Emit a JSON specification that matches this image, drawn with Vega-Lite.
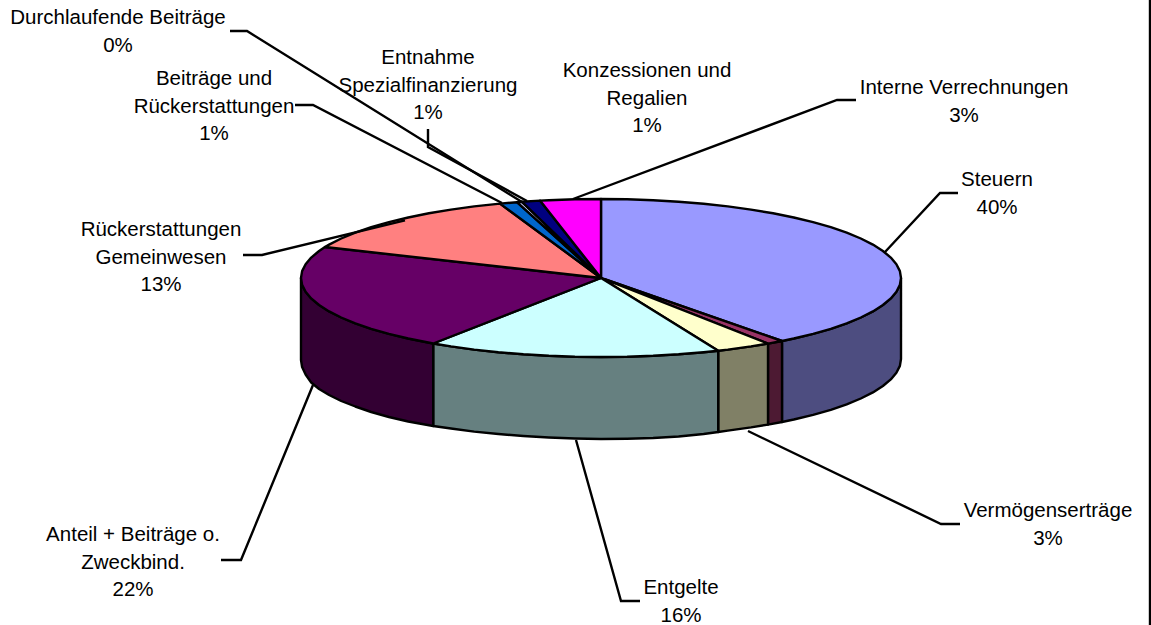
{"$schema":"https://vega.github.io/schema/vega-lite/v6.json","width":1151,"height":625,"padding":0,"autosize":"none","background":"white","view":{"stroke":null},
"datasets":{
"faces":[
{"g":"Steuern Wand","i":0,"x":300,"y":0},{"g":"Steuern Wand","i":1,"x":298.9,"y":-6.9},{"g":"Steuern Wand","i":2,"x":295.4,"y":-13.7},{"g":"Steuern Wand","i":3,"x":289.8,"y":-20.4},{"g":"Steuern Wand","i":4,"x":281.9,"y":-27},{"g":"Steuern Wand","i":5,"x":271.9,"y":-33.4},{"g":"Steuern Wand","i":6,"x":259.8,"y":-39.5},{"g":"Steuern Wand","i":7,"x":245.7,"y":-45.3},{"g":"Steuern Wand","i":8,"x":229.8,"y":-50.8},{"g":"Steuern Wand","i":9,"x":212.1,"y":-55.9},{"g":"Steuern Wand","i":10,"x":192.8,"y":-60.5},{"g":"Steuern Wand","i":11,"x":181,"y":-63},{"g":"Steuern Wand","i":12,"x":181,"y":-144},{"g":"Steuern Wand","i":13,"x":192.8,"y":-141.5},{"g":"Steuern Wand","i":14,"x":212.1,"y":-136.9},{"g":"Steuern Wand","i":15,"x":229.8,"y":-131.8},{"g":"Steuern Wand","i":16,"x":245.7,"y":-126.3},{"g":"Steuern Wand","i":17,"x":259.8,"y":-120.5},{"g":"Steuern Wand","i":18,"x":271.9,"y":-114.4},{"g":"Steuern Wand","i":19,"x":281.9,"y":-108},{"g":"Steuern Wand","i":20,"x":289.8,"y":-101.4},{"g":"Steuern Wand","i":21,"x":295.4,"y":-94.7},{"g":"Steuern Wand","i":22,"x":298.9,"y":-87.9},{"g":"Steuern Wand","i":23,"x":300,"y":-81},{"g":"Steuern Wand","i":24,"x":300,"y":0},
{"g":"Rest Wand","i":0,"x":181,"y":-63},{"g":"Rest Wand","i":1,"x":167,"y":-65.6},{"g":"Rest Wand","i":2,"x":167,"y":-146.6},{"g":"Rest Wand","i":3,"x":181,"y":-144},{"g":"Rest Wand","i":4,"x":181,"y":-63},
{"g":"Vermögen Wand","i":0,"x":167,"y":-65.6},{"g":"Vermögen Wand","i":1,"x":150,"y":-68.4},{"g":"Vermögen Wand","i":2,"x":126.8,"y":-71.6},{"g":"Vermögen Wand","i":3,"x":117.2,"y":-72.7},{"g":"Vermögen Wand","i":4,"x":117.2,"y":-154},{"g":"Vermögen Wand","i":5,"x":126.8,"y":-152.6},{"g":"Vermögen Wand","i":6,"x":150,"y":-149.4},{"g":"Vermögen Wand","i":7,"x":167,"y":-146.6},{"g":"Vermögen Wand","i":8,"x":167,"y":-65.6},
{"g":"Entgelte Wand","i":0,"x":117.2,"y":-72.7},{"g":"Entgelte Wand","i":1,"x":102.6,"y":-74.2},{"g":"Entgelte Wand","i":2,"x":77.6,"y":-76.3},{"g":"Entgelte Wand","i":3,"x":52.1,"y":-77.8},{"g":"Entgelte Wand","i":4,"x":26.1,"y":-78.7},{"g":"Entgelte Wand","i":5,"x":0,"y":-79},{"g":"Entgelte Wand","i":6,"x":-26.1,"y":-78.7},{"g":"Entgelte Wand","i":7,"x":-52.1,"y":-77.8},{"g":"Entgelte Wand","i":8,"x":-77.6,"y":-76.3},{"g":"Entgelte Wand","i":9,"x":-102.6,"y":-74.2},{"g":"Entgelte Wand","i":10,"x":-126.8,"y":-71.6},{"g":"Entgelte Wand","i":11,"x":-150,"y":-68.4},{"g":"Entgelte Wand","i":12,"x":-167.8,"y":-65.5},{"g":"Entgelte Wand","i":13,"x":-167.8,"y":-148},{"g":"Entgelte Wand","i":14,"x":-150,"y":-150.5},{"g":"Entgelte Wand","i":15,"x":-126.8,"y":-153.6},{"g":"Entgelte Wand","i":16,"x":-102.6,"y":-156},{"g":"Entgelte Wand","i":17,"x":-77.6,"y":-158},{"g":"Entgelte Wand","i":18,"x":-52.1,"y":-159.5},{"g":"Entgelte Wand","i":19,"x":-26.1,"y":-160.5},{"g":"Entgelte Wand","i":20,"x":0,"y":-161},{"g":"Entgelte Wand","i":21,"x":26.1,"y":-160.7},{"g":"Entgelte Wand","i":22,"x":52.1,"y":-160},{"g":"Entgelte Wand","i":23,"x":77.6,"y":-158.5},{"g":"Entgelte Wand","i":24,"x":102.6,"y":-156},{"g":"Entgelte Wand","i":25,"x":117.2,"y":-154},{"g":"Entgelte Wand","i":26,"x":117.2,"y":-72.7},
{"g":"Anteil Wand","i":0,"x":-167.8,"y":-65.5},{"g":"Anteil Wand","i":1,"x":-192.8,"y":-60.5},{"g":"Anteil Wand","i":2,"x":-212.1,"y":-55.9},{"g":"Anteil Wand","i":3,"x":-229.8,"y":-50.8},{"g":"Anteil Wand","i":4,"x":-245.7,"y":-45.3},{"g":"Anteil Wand","i":5,"x":-259.8,"y":-39.5},{"g":"Anteil Wand","i":6,"x":-271.9,"y":-33.4},{"g":"Anteil Wand","i":7,"x":-281.9,"y":-27},{"g":"Anteil Wand","i":8,"x":-289.8,"y":-20.4},{"g":"Anteil Wand","i":9,"x":-295.4,"y":-13.7},{"g":"Anteil Wand","i":10,"x":-298.9,"y":-6.9},{"g":"Anteil Wand","i":11,"x":-300,"y":0},{"g":"Anteil Wand","i":12,"x":-300,"y":-82},{"g":"Anteil Wand","i":13,"x":-298.9,"y":-89},{"g":"Anteil Wand","i":14,"x":-295.4,"y":-96.5},{"g":"Anteil Wand","i":15,"x":-289.8,"y":-104.5},{"g":"Anteil Wand","i":16,"x":-281.9,"y":-111},{"g":"Anteil Wand","i":17,"x":-271.9,"y":-117},{"g":"Anteil Wand","i":18,"x":-259.8,"y":-123},{"g":"Anteil Wand","i":19,"x":-245.7,"y":-128.5},{"g":"Anteil Wand","i":20,"x":-229.8,"y":-134},{"g":"Anteil Wand","i":21,"x":-212.1,"y":-139},{"g":"Anteil Wand","i":22,"x":-192.8,"y":-143.5},{"g":"Anteil Wand","i":23,"x":-167.8,"y":-148},{"g":"Anteil Wand","i":24,"x":-167.8,"y":-65.5},
{"g":"Steuern","i":0,"x":0,"y":0},{"g":"Steuern","i":1,"x":0,"y":79},{"g":"Steuern","i":2,"x":26.1,"y":78.7},{"g":"Steuern","i":3,"x":52.1,"y":77.8},{"g":"Steuern","i":4,"x":77.6,"y":76.3},{"g":"Steuern","i":5,"x":102.6,"y":74.2},{"g":"Steuern","i":6,"x":126.8,"y":71.6},{"g":"Steuern","i":7,"x":150,"y":68.4},{"g":"Steuern","i":8,"x":172.1,"y":64.7},{"g":"Steuern","i":9,"x":192.8,"y":60.5},{"g":"Steuern","i":10,"x":212.1,"y":55.9},{"g":"Steuern","i":11,"x":229.8,"y":50.8},{"g":"Steuern","i":12,"x":245.7,"y":45.3},{"g":"Steuern","i":13,"x":259.8,"y":39.5},{"g":"Steuern","i":14,"x":271.9,"y":33.4},{"g":"Steuern","i":15,"x":281.9,"y":27},{"g":"Steuern","i":16,"x":289.8,"y":20.4},{"g":"Steuern","i":17,"x":295.4,"y":13.7},{"g":"Steuern","i":18,"x":298.9,"y":6.9},{"g":"Steuern","i":19,"x":300,"y":0},{"g":"Steuern","i":20,"x":298.9,"y":-6.9},{"g":"Steuern","i":21,"x":295.4,"y":-13.7},{"g":"Steuern","i":22,"x":289.8,"y":-20.4},{"g":"Steuern","i":23,"x":281.9,"y":-27},{"g":"Steuern","i":24,"x":271.9,"y":-33.4},{"g":"Steuern","i":25,"x":259.8,"y":-39.5},{"g":"Steuern","i":26,"x":245.7,"y":-45.3},{"g":"Steuern","i":27,"x":229.8,"y":-50.8},{"g":"Steuern","i":28,"x":212.1,"y":-55.9},{"g":"Steuern","i":29,"x":192.8,"y":-60.5},{"g":"Steuern","i":30,"x":181,"y":-63},{"g":"Steuern","i":31,"x":0,"y":0},
{"g":"Rest","i":0,"x":0,"y":0},{"g":"Rest","i":1,"x":181,"y":-63},{"g":"Rest","i":2,"x":167,"y":-65.6},{"g":"Rest","i":3,"x":0,"y":0},
{"g":"Vermögenserträge","i":0,"x":0,"y":0},{"g":"Vermögenserträge","i":1,"x":167,"y":-65.6},{"g":"Vermögenserträge","i":2,"x":150,"y":-68.4},{"g":"Vermögenserträge","i":3,"x":126.8,"y":-71.6},{"g":"Vermögenserträge","i":4,"x":117.2,"y":-72.7},{"g":"Vermögenserträge","i":5,"x":0,"y":0},
{"g":"Entgelte","i":0,"x":0,"y":0},{"g":"Entgelte","i":1,"x":117.2,"y":-72.7},{"g":"Entgelte","i":2,"x":102.6,"y":-74.2},{"g":"Entgelte","i":3,"x":77.6,"y":-76.3},{"g":"Entgelte","i":4,"x":52.1,"y":-77.8},{"g":"Entgelte","i":5,"x":26.1,"y":-78.7},{"g":"Entgelte","i":6,"x":0,"y":-79},{"g":"Entgelte","i":7,"x":-26.1,"y":-78.7},{"g":"Entgelte","i":8,"x":-52.1,"y":-77.8},{"g":"Entgelte","i":9,"x":-77.6,"y":-76.3},{"g":"Entgelte","i":10,"x":-102.6,"y":-74.2},{"g":"Entgelte","i":11,"x":-126.8,"y":-71.6},{"g":"Entgelte","i":12,"x":-150,"y":-68.4},{"g":"Entgelte","i":13,"x":-167.8,"y":-65.5},{"g":"Entgelte","i":14,"x":0,"y":0},
{"g":"Anteil","i":0,"x":0,"y":0},{"g":"Anteil","i":1,"x":-167.8,"y":-65.5},{"g":"Anteil","i":2,"x":-192.8,"y":-60.5},{"g":"Anteil","i":3,"x":-212.1,"y":-55.9},{"g":"Anteil","i":4,"x":-229.8,"y":-50.8},{"g":"Anteil","i":5,"x":-245.7,"y":-45.3},{"g":"Anteil","i":6,"x":-259.8,"y":-39.5},{"g":"Anteil","i":7,"x":-271.9,"y":-33.4},{"g":"Anteil","i":8,"x":-281.9,"y":-27},{"g":"Anteil","i":9,"x":-289.8,"y":-20.4},{"g":"Anteil","i":10,"x":-295.4,"y":-13.7},{"g":"Anteil","i":11,"x":-298.9,"y":-6.9},{"g":"Anteil","i":12,"x":-300,"y":0},{"g":"Anteil","i":13,"x":-298.9,"y":6.9},{"g":"Anteil","i":14,"x":-295.4,"y":13.7},{"g":"Anteil","i":15,"x":-289.8,"y":20.4},{"g":"Anteil","i":16,"x":-281.9,"y":27},{"g":"Anteil","i":17,"x":-276,"y":31},{"g":"Anteil","i":18,"x":0,"y":0},
{"g":"Rückerstattungen","i":0,"x":0,"y":0},{"g":"Rückerstattungen","i":1,"x":-276,"y":31},{"g":"Rückerstattungen","i":2,"x":-271.9,"y":33.4},{"g":"Rückerstattungen","i":3,"x":-259.8,"y":39.5},{"g":"Rückerstattungen","i":4,"x":-245.7,"y":45.3},{"g":"Rückerstattungen","i":5,"x":-229.8,"y":50.8},{"g":"Rückerstattungen","i":6,"x":-212.1,"y":55.9},{"g":"Rückerstattungen","i":7,"x":-192.8,"y":60.5},{"g":"Rückerstattungen","i":8,"x":-172.1,"y":64.7},{"g":"Rückerstattungen","i":9,"x":-150,"y":68.4},{"g":"Rückerstattungen","i":10,"x":-126.8,"y":71.6},{"g":"Rückerstattungen","i":11,"x":-101,"y":74.4},{"g":"Rückerstattungen","i":12,"x":0,"y":0},
{"g":"Beiträge","i":0,"x":0,"y":0},{"g":"Beiträge","i":1,"x":-101,"y":74.4},{"g":"Beiträge","i":2,"x":-84,"y":75.8},{"g":"Beiträge","i":3,"x":0,"y":0},
{"g":"Durchlaufende","i":0,"x":0,"y":0},{"g":"Durchlaufende","i":1,"x":-84,"y":75.8},{"g":"Durchlaufende","i":2,"x":-79,"y":76.2},{"g":"Durchlaufende","i":3,"x":0,"y":0},
{"g":"Entnahme","i":0,"x":0,"y":0},{"g":"Entnahme","i":1,"x":-79,"y":76.2},{"g":"Entnahme","i":2,"x":-61,"y":77.4},{"g":"Entnahme","i":3,"x":0,"y":0},
{"g":"Interne","i":0,"x":0,"y":0},{"g":"Interne","i":1,"x":-61,"y":77.4},{"g":"Interne","i":2,"x":-52.1,"y":77.8},{"g":"Interne","i":3,"x":-26.1,"y":78.7},{"g":"Interne","i":4,"x":0,"y":79},{"g":"Interne","i":5,"x":0,"y":0}
],
"leaders":[
{"g":"Durchlaufende","i":0,"x":-371,"y":247},{"g":"Durchlaufende","i":1,"x":-354,"y":247},{"g":"Durchlaufende","i":2,"x":-79,"y":76},
{"g":"Beiträge","i":0,"x":-306,"y":173},{"g":"Beiträge","i":1,"x":-288,"y":173},{"g":"Beiträge","i":2,"x":-99,"y":75},
{"g":"Entnahme","i":0,"x":-173,"y":149},{"g":"Entnahme","i":1,"x":-173,"y":131},{"g":"Entnahme","i":2,"x":-74,"y":77},
{"g":"Rückerstattungen","i":0,"x":-358,"y":23},{"g":"Rückerstattungen","i":1,"x":-339,"y":23},{"g":"Rückerstattungen","i":2,"x":-196,"y":57.6},
{"g":"Interne","i":0,"x":255,"y":178},{"g":"Interne","i":1,"x":236,"y":178},{"g":"Interne","i":2,"x":-28,"y":79},
{"g":"Steuern","i":0,"x":357,"y":85},{"g":"Steuern","i":1,"x":339,"y":85},{"g":"Steuern","i":2,"x":284,"y":26},
{"g":"Anteil","i":0,"x":-380,"y":-282},{"g":"Anteil","i":1,"x":-360,"y":-282},{"g":"Anteil","i":2,"x":-288,"y":-107},
{"g":"Entgelte","i":0,"x":-25,"y":-162},{"g":"Entgelte","i":1,"x":20,"y":-323},{"g":"Entgelte","i":2,"x":39,"y":-323},
{"g":"Vermögen","i":0,"x":147,"y":-153},{"g":"Vermögen","i":1,"x":340,"y":-246},{"g":"Vermögen","i":2,"x":359,"y":-246},
{"g":"Rahmen","i":0,"x":549,"y":278},{"g":"Rahmen","i":1,"x":549,"y":-347}
],
"labels":[
{"t":"Durchlaufende Beiträge\n0%","x":-483,"y":260},
{"t":"Beiträge und\nRückerstattungen\n1%","x":-387,"y":199},
{"t":"Entnahme\nSpezialfinanzierung\n1%","x":-173,"y":220},
{"t":"Konzessionen und\nRegalien\n1%","x":46,"y":207},
{"t":"Interne Verrechnungen\n3%","x":363,"y":190},
{"t":"Steuern\n40%","x":396,"y":98},
{"t":"Rückerstattungen\nGemeinwesen\n13%","x":-440,"y":48},
{"t":"Vermögenserträge\n3%","x":447,"y":-233},
{"t":"Anteil + Beiträge o.\nZweckbind.\n22%","x":-468,"y":-257},
{"t":"Entgelte\n16%","x":80,"y":-310}
]},
"layer":[
{"data":{"name":"faces"},"mark":{"type":"line","stroke":"black","strokeWidth":2.4,"strokeJoin":"round"},
"encoding":{"x":{"field":"x","type":"quantitative","scale":{"domain":[-601,550],"nice":false,"zero":false},"axis":null},"y":{"field":"y","type":"quantitative","scale":{"domain":[-347,278],"nice":false,"zero":false},"axis":null},"order":{"field":"i","type":"quantitative"},"detail":{"field":"g"},
"fill":{"field":"g","type":"nominal","legend":null,"scale":{"domain":["Steuern Wand","Rest Wand","Vermögen Wand","Entgelte Wand","Anteil Wand","Steuern","Rest","Vermögenserträge","Entgelte","Anteil","Rückerstattungen","Beiträge","Durchlaufende","Entnahme","Interne"],"range":["#4D4D80","#4D1A33","#808066","#668080","#330033","#9999FF","#993366","#FFFFCC","#CCFFFF","#660066","#FF8080","#0066CC","#CCCCFF","#000080","#FF00FF"]}}}},
{"data":{"name":"leaders"},"mark":{"type":"line","stroke":"black","strokeWidth":2.4,"interpolate":"linear"},
"encoding":{"x":{"field":"x","type":"quantitative"},"y":{"field":"y","type":"quantitative"},"order":{"field":"i","type":"quantitative"},"detail":{"field":"g"}}},
{"data":{"name":"labels"},"mark":{"type":"text","font":"Liberation Sans","fontSize":20.5,"lineBreak":"\n","lineHeight":27.5,"align":"center","baseline":"middle","color":"black"},
"encoding":{"x":{"field":"x","type":"quantitative"},"y":{"field":"y","type":"quantitative"},"text":{"field":"t"}}}
]}
